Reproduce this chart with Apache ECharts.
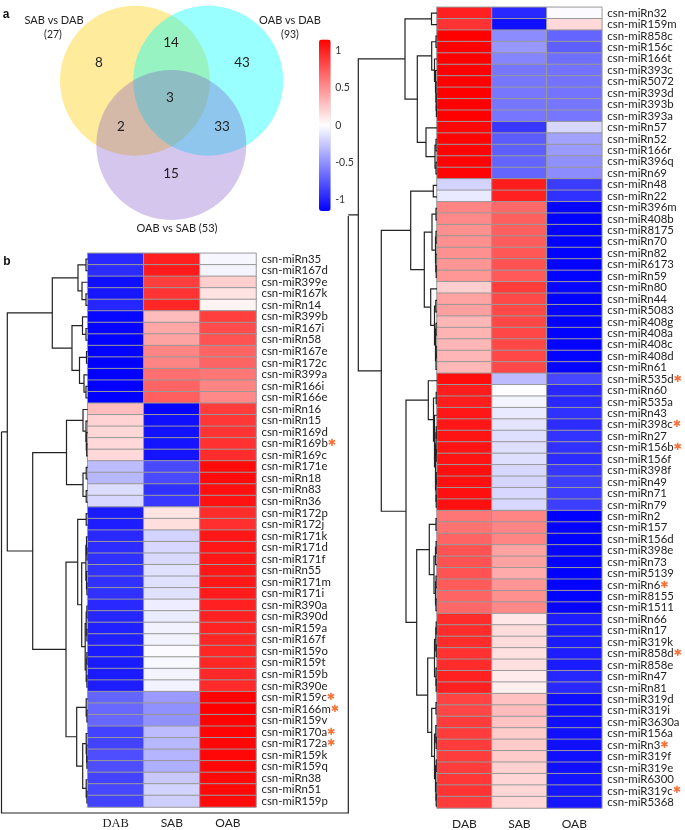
<!DOCTYPE html>
<html><head><meta charset="utf-8">
<style>html,body{margin:0;padding:0;background:#fff}#c{width:685px;height:830px}</style>
<script src="https://cdn.jsdelivr.net/npm/echarts@6/dist/echarts.min.js"></script>
</head><body><div id="c"></div>
<script>
const conditions = ['DAB','SAB','OAB'];
const leftGenes = ['miRn35','miR167d','miR399e','miR167k','miRn14','miR399b','miR167i','miRn58','miR167e','miR172c','miR399a','miR166i','miR166e','miRn16','miRn15','miR169d','miR169b','miR169c','miR171e','miRn18','miRn83','miRn36','miR172p','miR172j','miR171k','miR171d','miR171f','miRn55','miR171m','miR171i','miR390a','miR390d','miR159a','miR167f','miR159o','miR159t','miR159b','miR390e','miR159c','miR166m','miR159v','miR170a','miR172a','miR159k','miR159q','miRn38','miRn51','miR159p'];
const leftDAB = [-.97,-.95,-1.08,-1.05,-.98,-1.12,-1.13,-1.14,-1.15,-1.15,-1.15,-1.15,-1.15,.30,.20,.18,.17,.17,-.30,-.32,-.16,-.18,-1.03,-1.02,-.97,-.95,-.93,-.92,-.93,-.93,-.97,-.98,-1.0,-1.0,-1.03,-1.03,-1.03,-1.02,-.70,-.68,-.68,-.85,-.85,-.80,-.80,-.85,-.83,-.85];
const leftSAB = [1.01,1.03,.87,.92,.98,.30,.40,.42,.55,.55,.65,.70,.72,-1.13,-1.08,-1.07,-1.06,-1.06,-.82,-.82,-.93,-.90,.12,.15,-.20,-.18,-.17,-.14,-.14,-.14,-.08,-.09,-.06,-.06,-.02,-.03,-.05,-.06,-.45,-.50,-.49,-.30,-.32,-.34,-.36,-.25,-.20,-.22];
const leftOAB = [-.04,-.05,.22,.13,.05,.87,.81,.78,.70,.70,.62,.55,.53,.88,.90,.92,.93,.95,1.10,1.10,1.08,1.07,.95,.94,1.05,1.05,1.05,1.04,1.04,1.03,1.0,1.0,.99,.98,.98,.98,.97,.96,1.14,1.15,1.14,1.13,1.12,1.12,1.12,1.11,1.11,1.10];
const leftStarred = ['miR169b','miR159c','miR166m','miR170a','miR172a'];
const rightGenes = ['miRn32','miR159m','miR858c','miR156c','miR166t','miR393c','miR5072','miR393d','miR393b','miR393a','miRn57','miRn52','miR166r','miR396q','miRn69','miRn48','miRn22','miR396m','miR408b','miR8175','miRn70','miRn82','miR6173','miRn59','miRn80','miRn44','miR5083','miR408g','miR408a','miR408c','miR408d','miRn61','miR535d','miRn60','miR535a','miRn43','miR398c','miRn27','miR156b','miR156f','miR398f','miRn49','miRn71','miRn79','miRn2','miR157','miR156d','miR398e','miRn73','miR5139','miRn6','miR8155','miR1511','miRn66','miRn17','miR319k','miR858d','miR858e','miRn47','miRn81','miR319d','miR319i','miR3630a','miR156a','miRn3','miR319f','miR319e','miR6300','miR319c','miR5368'];
const rightDAB = [1.0,.92,1.15,1.15,1.15,1.15,1.15,1.15,1.15,1.15,1.12,1.13,1.13,1.13,1.13,-.20,-.10,.55,.53,.50,.50,.50,.48,.47,.22,.42,.43,.33,.34,.33,.33,.32,1.09,1.02,1.02,1.05,1.05,1.06,1.06,1.06,1.08,1.08,1.08,1.08,.62,.63,.70,.78,.78,.78,.74,.70,.68,.95,.95,.95,.93,.95,1.0,1.0,.85,.83,.88,.88,.88,.88,.88,.90,.92,.88];
const rightSAB = [-.97,-1.08,-.52,-.47,-.55,-.62,-.62,-.62,-.62,-.62,-.90,-.73,-.72,-.70,-.70,1.02,1.0,.68,.72,.72,.73,.76,.78,.75,.88,.82,.82,.83,.83,.83,.83,.82,-.30,-.01,-.05,-.10,-.12,-.15,-.15,-.15,-.18,-.19,-.18,-.18,.55,.55,.55,.42,.42,.38,.48,.50,.53,.11,.16,.16,.14,.14,.09,.07,.28,.30,.27,.24,.24,.24,.21,.19,.18,.18];
const rightOAB = [-.02,.17,-.70,-.72,-.65,-.63,-.63,-.63,-.62,-.62,-.18,-.42,-.45,-.50,-.52,-.88,-.93,-1.13,-1.14,-1.14,-1.14,-1.14,-1.14,-1.14,-1.12,-1.14,-1.13,-1.15,-1.14,-1.14,-1.14,-1.13,-.83,-.97,-.97,-.93,-.95,-.92,-.93,-.95,-.90,-.87,-.87,-.87,-1.15,-1.14,-1.14,-1.13,-1.14,-1.14,-1.14,-1.14,-1.13,-1.02,-1.03,-1.03,-1.02,-1.03,-.98,-.97,-1.08,-1.08,-1.08,-1.08,-1.08,-1.08,-1.08,-1.06,-1.05,-1.05];
const rightStarred = ['miR535d','miR398c','miR156b','miRn6','miR858d','miRn3','miR319c'];
const colorTicks = [-1,-0.5,0,0.5,1];
const colorLimit = 1.15;
const vennSets = ['SAB vs DAB','OAB vs DAB','OAB vs SAB'];
const vennTotals = [27,93,53];
const vennCounts = [8,14,43,3,2,33,15];

// Dendrograms: [merge height, child, child]; a bare number is a leaf (row index)
const leftTree = [80.4,
  [35.4,
    [9.7,[1.7,0,1],[5.7,2,[1.7,3,4]]],
    [15.7,[5.2,5,[1.7,6,7]],[8.2,[1.2,8,9],[3.7,10,[1.7,11,12]]]]],
  [55,
    [21.2,[4.7,13,[1.7,14,[1.4,15,[1,16,17]]]],[4.7,[1.5,18,19],[1.5,20,21]]],
    [21.7,
      [10,[1.5,22,23],[6,[1.8,[1.2,24,[.8,25,26]],[1.2,27,[.8,28,29]]],[2.5,[1.5,[.8,30,31],[.8,32,33]],[1.5,[.8,34,35],[.8,36,37]]]]],
      [11,[1.5,38,[.8,39,40]],[5,[1.5,41,[1,42,[.8,43,44]]],[1.5,45,[.8,46,47]]]]]]];
const rightTree = [78.7,
  [32,[5.5,0,1],
    [19.7,
      [5.3,[1,2,3],[2.5,4,[1.5,5,[1,6,[.8,7,[.6,8,9]]]]]],
      [11,10,[2,[1,11,12],[1,13,14]]]]],
  [55.7,
    [26.3,[3.7,15,16],
      [12.7,
        [5,[1,17,18],[1.5,[1,19,20],[1.2,21,[.8,22,23]]]],
        [6.3,24,[2.5,[1.2,25,26],[1.5,[1,27,28],[1,[.8,29,30],31]]]]]],
    [31,
      [8.7,32,[3.5,[.8,33,34],[2.5,35,[1.5,[1,[.8,36,37],[.8,38,39]],[1,[.8,40,41],[.8,42,43]]]]]],
      [20.3,
        [7.7,[1,44,45],[3,[1.5,[.9,46,47],48],[1.5,[1,49,50],[1,51,52]]]],
        [9.3,
          [2.5,[1.2,[.8,53,54],[.8,55,56]],[1,57,[.8,58,59]]],
          [5.3,[1,60,61],[2.5,[1.2,62,[.8,63,64]],[1.5,[.8,65,66],[1,67,[.8,68,69]]]]]]]]]];
const leftStem = 86.2, rightStem = 88.7;

function flatten(tree, stem){
  const out = [];
  (function walk(n){
    if (typeof n === 'number') return {y:n,h:0};
    const a = walk(n[1]), b = walk(n[2]);
    out.push([n[0],a.y,b.y,a.h,b.h]);
    return {y:(a.y+b.y)/2,h:n[0]};
  })(tree);
  const top = out[out.length-1], rootY = (top[1]+top[2])/2;
  out.push([stem,rootY,rootY,top[0],top[0]]);
  return out;
}
const dendRender = (p, api) => {
  const h=api.value(0), y1=api.value(1), y2=api.value(2), hA=api.value(3), hB=api.value(4);
  return {type:'polyline',silent:true,
    shape:{points:[api.coord([hA,y1]),api.coord([h,y1]),api.coord([h,y2]),api.coord([hB,y2])]},
    style:{stroke:'#222',lineWidth:1.2,fill:null}};
};
const cells = (a,b,c) => a.flatMap((v,i)=>[[0,i,v],[1,i,b[i]],[2,i,c[i]]]);
const geneLabel = stars => name => 'csn-'+name+(stars.includes(name)?'{s|✱}':'');
const LF = 'Lato';
const geneAxis = (gi, genes, stars) => ({gridIndex:gi,type:'category',data:genes,inverse:true,position:'right',
  axisLine:{show:false},axisTick:{show:false},
  axisLabel:{interval:0,margin:5.5,fontFamily:LF,fontSize:11.4,color:'#222',formatter:geneLabel(stars),
    rich:{s:{color:'#F4743B',fontSize:10,fontFamily:'DejaVu Sans',fontWeight:'bold'}}}});
const condAxis = (gi, serif) => ({gridIndex:gi,type:'category',data:conditions,position:'bottom',
  axisLine:{show:false},axisTick:{show:false},
  axisLabel:{margin:10,fontFamily:LF,fontSize:12,color:'#222',
    formatter:v=>(serif&&v==='DAB')?'{s|DAB}':v,rich:{s:{fontFamily:'Liberation Serif',fontSize:12.5,color:'#222'}}}});
const heat = (xi,yi,data)=>({type:'heatmap',xAxisIndex:xi,yAxisIndex:yi,data,silent:true,progressive:0,
  itemStyle:{borderColor:'#999',borderWidth:1},emphasis:{disabled:true}});
const dend = (xi,yi,data)=>({type:'custom',xAxisIndex:xi,yAxisIndex:yi,data,renderItem:dendRender,silent:true,clip:false,
  encode:{x:[0,3,4],y:[1,2]}});

// Venn layout
const vt = (text,x,y,size,extra)=>({type:'text',silent:true,style:Object.assign({text,x,y,fontFamily:LF,fontSize:size,fill:'#222',align:'center',verticalAlign:'middle'},extra||{})});
const vc = (cx,cy,fill)=>({type:'circle',silent:true,shape:{cx,cy,r:75},style:{fill}});
const numPos = [[99,63],[171,43],[242,63],[170,98],[121,127],[222,127],[171,174]];
const graphics = [
  vc(135,80.8,'rgba(253,224,90,.6)'),
  vc(208.2,80.8,'rgba(0,255,255,.4)'),
  vc(171.3,145,'rgba(120,70,200,.31)'),
  ...vennCounts.map((n,i)=>vt(String(n),numPos[i][0],numPos[i][1],13.5)),
  vt(vennSets[0],54,20,11), vt('('+vennTotals[0]+')',53,35,10.5),
  vt(vennSets[1],290,20,11), vt('('+vennTotals[1]+')',290,35,10.5),
  vt(vennSets[2]+' ('+vennTotals[2]+')',177,228,11),
  vt('a',6,15,12,{fontFamily:'Liberation Sans',fontWeight:'bold',fill:'#111'}),
  vt('b',7,262,12,{fontFamily:'Liberation Sans',fontWeight:'bold',fill:'#111'}),
  {type:'polyline',silent:true,shape:{points:[[1.5,432],[1.5,813],[348.3,813],[348.3,216]]},style:{stroke:'#222',lineWidth:1.2,fill:null}}
];

const chart = echarts.init(document.getElementById('c'),null,{renderer:'canvas'});
chart.setOption({
  animation:false,backgroundColor:'#fff',
  grid:[
    {left:87.7,top:253.3,width:168.3,height:555.4},
    {left:0,top:253.3,width:87.7,height:555.4},
    {left:437,top:7.3,width:165.7,height:804.4},
    {left:340,top:7.3,width:97,height:804.4},
    {left:319,top:39.5,width:11.7,height:171.5}
  ],
  xAxis:[
    condAxis(0,true),
    {gridIndex:1,type:'value',min:0,max:87.7,inverse:true,show:false},
    condAxis(2,false),
    {gridIndex:3,type:'value',min:0,max:97,inverse:true,show:false},
    {gridIndex:4,type:'value',show:false}
  ],
  yAxis:[
    geneAxis(0,leftGenes,leftStarred),
    {gridIndex:1,type:'value',min:-.5,max:leftGenes.length-.5,inverse:true,show:false},
    geneAxis(2,rightGenes,rightStarred),
    {gridIndex:3,type:'value',min:-.5,max:rightGenes.length-.5,inverse:true,show:false},
    {gridIndex:4,type:'value',min:-colorLimit,max:colorLimit,position:'right',splitLine:{show:false},
     axisLine:{show:false},axisTick:{show:false},
     axisLabel:{customValues:colorTicks,margin:4.5,fontFamily:LF,fontSize:10.5,color:'#333',formatter:v=>String(v)}}
  ],
  visualMap:{type:'continuous',min:-colorLimit,max:colorLimit,seriesIndex:[0,2],calculable:false,realtime:false,
    left:319,top:39.5,itemWidth:11.7,itemHeight:171.5,padding:0,text:null,showLabel:false,
    inRange:{color:['#0000ff','#ffffff','#ff0000']}},
  series:[
    heat(0,0,cells(leftDAB,leftSAB,leftOAB)),
    dend(1,1,flatten(leftTree,leftStem)),
    heat(2,2,cells(rightDAB,rightSAB,rightOAB)),
    dend(3,3,flatten(rightTree,rightStem)),
    {type:'line',xAxisIndex:4,yAxisIndex:4,data:[],silent:true}
  ],
  graphic:graphics
});
</script></body></html>
